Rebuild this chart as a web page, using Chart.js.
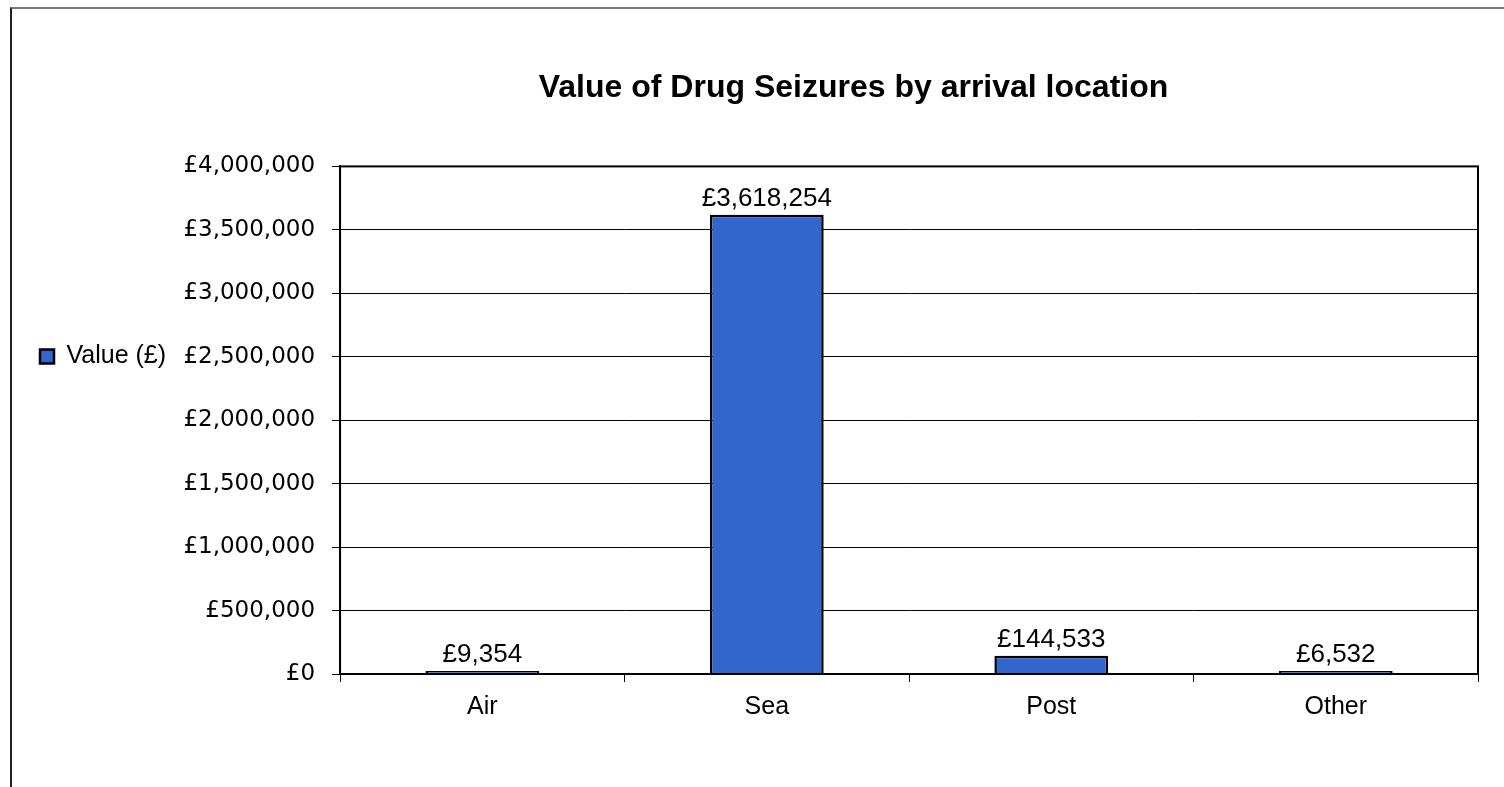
<!DOCTYPE html>
<html>
<head>
<meta charset="utf-8">
<title>Value of Drug Seizures by arrival location</title>
<script src="https://cdn.jsdelivr.net/npm/chart.js@4.4.0/dist/chart.umd.min.js"></script>
<style>
  html, body { margin: 0; padding: 0; background: #fff; overflow: hidden; width: 1504px; height: 787px; }
  #frame {
    position: absolute; left: 10px; top: 7px;
    width: 1700px; height: 778px;
    border-top: 2px solid #7a7a7a; border-left: 2px solid #222;
  }
  #chart { display: block; }
</style>
</head>
<body>
<div id="frame">
  <canvas id="chart" width="1665" height="778"></canvas>
</div>
<script>
// data
const categories = ['Air', 'Sea', 'Post', 'Other'];
const seizureValues = [9354, 3618254, 144533, 6532];
const seriesName = 'Value (£)';
const yTicks = [0, 500000, 1000000, 1500000, 2000000, 2500000, 3000000, 3500000, 4000000];

const money = v => '£' + Number(v).toLocaleString('en-GB');

// box around the plot area
const plotBorder = {
  id: 'plotBorder',
  afterDraw(chart) {
    const { ctx, chartArea: a } = chart;
    ctx.save();
    ctx.strokeStyle = '#000';
    ctx.lineWidth = 2;
    ctx.strokeRect(a.left, a.top, a.right - a.left, a.bottom - a.top);
    ctx.restore();
  }
};

// value labels on top of the bars
const barLabels = {
  id: 'barLabels',
  afterDatasetsDraw(chart) {
    const ctx = chart.ctx;
    const meta = chart.getDatasetMeta(0);
    ctx.save();
    ctx.font = '26px "Liberation Sans", Arial, sans-serif';
    ctx.fillStyle = '#000';
    ctx.textAlign = 'center';
    ctx.textBaseline = 'alphabetic';
    meta.data.forEach((bar, i) => {
      ctx.fillText(money(seizureValues[i]), bar.x, bar.y - 9);
    });
    ctx.restore();
  }
};

new Chart(document.getElementById('chart'), {
  type: 'bar',
  data: {
    labels: categories,
    datasets: [{
      label: seriesName,
      data: seizureValues,
      backgroundColor: '#3366CC',
      borderColor: '#000',
      borderWidth: 2.5,
      minBarLength: 3,
      barPercentage: 0.4,
      categoryPercentage: 1.0
    }]
  },
  options: {
    responsive: false,
    animation: false,
    layout: { padding: { left: 18, right: 0, top: 0, bottom: 55 } },
    plugins: {
      title: {
        display: true,
        text: 'Value of Drug Seizures by arrival location',
        color: '#000',
        font: { family: '"Liberation Sans", Arial, sans-serif', size: 32, weight: 'bold' },
        padding: { top: 60, bottom: 59 }
      },
      legend: {
        position: 'left',
        align: 'start',
        title: { display: true, text: ' ', font: { size: 10, lineHeight: 1 }, padding: { top: 315, bottom: 0 } },
        labels: {
          color: '#000',
          font: { family: '"Liberation Sans", Arial, sans-serif', size: 25 },
          boxWidth: 14,
          boxHeight: 14,
          padding: 10
        }
      },
      tooltip: { enabled: false }
    },
    scales: {
      x: {
        grid: { display: true, drawOnChartArea: false, color: '#000', tickLength: 8, offset: true },
        border: { display: true, color: '#000', width: 2 },
        ticks: {
          color: '#000',
          padding: 10,
          font: { family: '"Liberation Sans", Arial, sans-serif', size: 25 }
        }
      },
      y: {
        min: 0,
        max: 4000000,
        afterBuildTicks: s => { s.ticks = yTicks.map(v => ({ value: v })); },
        afterFit: s => { s.width = 164; },
        grid: { color: '#000', lineWidth: 1, tickLength: 8 },
        border: { display: true, color: '#000', width: 2 },
        ticks: {
          color: '#000',
          padding: 17,
          font: { family: '"DejaVu Sans", sans-serif', size: 23 },
          callback: v => money(v)
        }
      },
      pad: {
        type: 'linear',
        position: 'right',
        display: true,
        grid: { display: false },
        border: { display: false },
        ticks: { display: false },
        afterFit: s => { s.width = 199; }
      }
    }
  },
  plugins: [plotBorder, barLabels]
});
</script>
</body>
</html>
